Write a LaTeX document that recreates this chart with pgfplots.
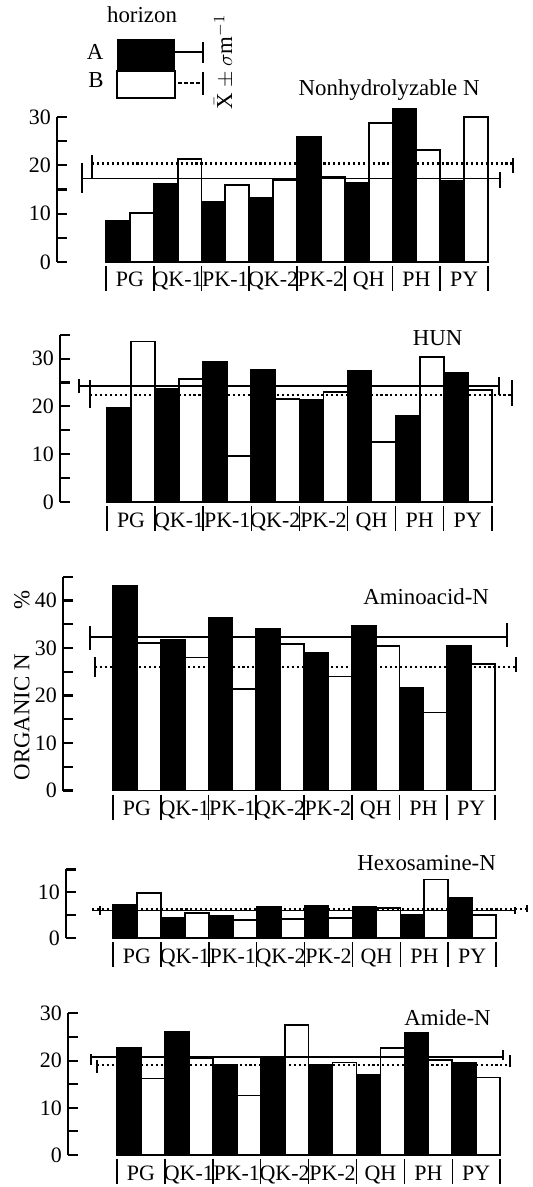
\documentclass[border=0pt]{standalone}
\usepackage{fontspec}
\setmainfont{Liberation Serif}
\usepackage{pgfplots}
\pgfplotsset{compat=1.18}

\pgfplotsset{
  organ/.style={
    anchor=south west, clip=false,
    axis y line*=left, axis x line*=bottom,
    x axis line style={draw=none},
    xtick={0.5,1.5,...,7.5},
    xticklabels={PG,QK-1,PK-1,QK-2,PK-2,QH,PH,PY},
    xtick style={draw=none},
    xticklabel style={anchor=base, yshift=-0.5cm, font=\fontsize{12.5}{14}\selectfont},
    ymin=0,
    tick align=inside,
    major tick length=0.2cm, minor tick length=0.2cm,
    y axis line style={line width=1.6pt},
    ytick style={line width=1.2pt, black},
    minor y tick style={line width=1.2pt, black},
    yticklabel style={font=\fontsize{12.5}{14}\selectfont},
    /pgf/number format/assume math mode=true,
  },
  barA/.style={ybar, bar width=0.5, bar shift=0pt, fill=black, draw=black, line width=1pt},
  barB/.style={ybar, bar width=0.5, bar shift=0pt, fill=white, draw=black, line width=1pt},
  meanA/.style={black, line width=1pt},
  meanB/.style={black, line width=1.2pt, dash pattern=on 1.2pt off 1.6pt},
  cap/.style={black, line width=1pt},
}
\newcommand{\seps}{%
  \pgfplotsinvokeforeach{0,...,8}{%
    \draw[line width=0.9pt] ([yshift=-0.08cm]axis cs:##1,0) -- ([yshift=-0.58cm]axis cs:##1,0);}}

\begin{document}
\begin{tikzpicture}
\useasboundingbox (0,0) rectangle (10.64,-23.74);

% Nonhydrolyzable N
\begin{axis}[organ, at={(1.14cm,-5.24cm)}, x=0.955cm, y=0.0966cm,
  xmin=-1.026, xmax=8.92, ymax=30, ytick={0,10,20,30}, minor ytick={5,15,25}]
\addplot[barA] coordinates {(0.25,8.5) (1.25,16.2) (2.25,12.5) (3.25,13.2) (4.25,25.8) (5.25,16.4) (6.25,31.7) (7.25,16.8)};
\addplot[barB] coordinates {(0.75,10.1) (1.75,21.3) (2.75,16.0) (3.75,17.0) (4.75,17.6) (5.75,28.7) (6.75,23.2) (7.75,30.0)};
\addplot[meanA] coordinates {(-0.50,17.3) (8.25,17.3)};
\addplot[cap] coordinates {(-0.50,14.3) (-0.50,20.5)};
\addplot[cap] coordinates {(8.25,15.3) (8.25,18.6)};
\addplot[meanB] coordinates {(-0.29,20.4) (8.52,20.4)};
\addplot[cap] coordinates {(-0.29,17.4) (-0.29,22.2)};
\addplot[cap] coordinates {(8.52,18.4) (8.52,21.5)};
\seps
\end{axis}

% HUN
\begin{axis}[organ, at={(1.20cm,-10.04cm)}, x=0.962cm, y=0.0956cm,
  xmin=-0.977, xmax=8.84, ymax=35, ytick={0,10,20,30}, minor ytick={5,15,25,35}]
\addplot[barA] coordinates {(0.25,19.7) (1.25,23.7) (2.25,29.3) (3.25,27.6) (4.25,21.3) (5.25,27.4) (6.25,18.1) (7.25,27.1)};
\addplot[barB] coordinates {(0.75,33.6) (1.75,25.7) (2.75,9.7) (3.75,21.5) (4.75,23.0) (5.75,12.6) (6.75,30.4) (7.75,23.5)};
\addplot[meanA] coordinates {(-0.58,24.2) (8.15,24.2)};
\addplot[cap] coordinates {(-0.58,22.8) (-0.58,25.7)};
\addplot[cap] coordinates {(8.15,22.4) (8.15,26.1)};
\addplot[meanB] coordinates {(-0.35,22.3) (8.42,22.3)};
\addplot[cap] coordinates {(-0.35,19.7) (-0.35,25.5)};
\addplot[cap] coordinates {(8.42,20.1) (8.42,25.5)};
\seps
\end{axis}

% Aminoacid-N
\begin{axis}[organ, at={(1.26cm,-15.81cm)}, x=0.955cm, y=0.095cm,
  xmin=-1.047, xmax=8.77, ymax=45, ytick={0,10,20,30,40}, minor ytick={5,15,25,35,45}]
\addplot[barA] coordinates {(0.25,43.1) (1.25,31.7) (2.25,36.3) (3.25,34.0) (4.25,28.9) (5.25,34.7) (6.25,21.5) (7.25,30.5)};
\addplot[barB] coordinates {(0.75,31.0) (1.75,28.0) (2.75,21.3) (3.75,30.8) (4.75,24.0) (5.75,30.5) (6.75,16.4) (7.75,26.7)};
\addplot[meanA] coordinates {(-0.48,32.3) (8.25,32.3)};
\addplot[cap] coordinates {(-0.48,29.6) (-0.48,34.6)};
\addplot[cap] coordinates {(8.25,30.3) (8.25,35.3)};
\addplot[meanB] coordinates {(-0.38,26.0) (8.44,26.0)};
\addplot[cap] coordinates {(-0.38,23.9) (-0.38,28.1)};
\addplot[cap] coordinates {(8.44,24.9) (8.44,28.1)};
\seps
\end{axis}

% Hexosamine-N
\begin{axis}[organ, at={(1.32cm,-18.76cm)}, x=0.958cm, y=0.0914cm,
  xmin=-0.981, xmax=8.75, ymax=15, ytick={0,10}, minor ytick={5,15}]
\addplot[barA] coordinates {(0.25,7.3) (1.25,4.4) (2.25,4.9) (3.25,6.8) (4.25,7.1) (5.25,6.9) (6.25,5.1) (7.25,8.8)};
\addplot[barB] coordinates {(0.75,9.9) (1.75,5.5) (2.75,4.0) (3.75,4.2) (4.75,4.4) (5.75,6.6) (6.75,12.8) (7.75,5.0)};
\addplot[meanA] coordinates {(-0.44,6.0) (8.39,6.0)};
\addplot[cap] coordinates {(-0.27,5.0) (-0.27,7.0)};
\addplot[cap] coordinates {(8.39,5.2) (8.39,6.8)};
\addplot[meanB] coordinates {(-0.44,6.4) (8.64,6.4)};
\addplot[cap] coordinates {(8.64,5.6) (8.64,7.2)};
\seps
\end{axis}

% Amide-N
\begin{axis}[organ, at={(1.36cm,-23.10cm)}, x=0.958cm, y=0.0944cm,
  xmin=-1.023, xmax=8.66, ymax=30, ytick={0,10,20,30}, minor ytick={5,15,25}]
\addplot[barA] coordinates {(0.25,22.6) (1.25,26.0) (2.25,19.1) (3.25,20.8) (4.25,19.1) (5.25,16.9) (6.25,25.8) (7.25,19.6)};
\addplot[barB] coordinates {(0.75,16.2) (1.75,20.6) (2.75,12.6) (3.75,27.5) (4.75,19.6) (5.75,22.6) (6.75,20.1) (7.75,16.4)};
\addplot[meanA] coordinates {(-0.54,20.8) (8.06,20.8)};
\addplot[cap] coordinates {(-0.54,19.1) (-0.54,21.4)};
\addplot[cap] coordinates {(8.06,20.1) (8.06,22.2)};
\addplot[meanB] coordinates {(-0.42,19.0) (8.20,19.0)};
\addplot[cap] coordinates {(-0.42,17.4) (-0.42,20.1)};
\addplot[cap] coordinates {(8.20,18.6) (8.20,21.2)};
\seps
\end{axis}

\begin{scope}[x=0.02cm, y=-0.02cm, font=\fontsize{13}{15}\selectfont]
% legend
\node at (142,15) {horizon};
\fill[black] (117,39) rectangle (175,71);
\draw[line width=1pt, fill=white] (117,71) rectangle (175,98);
\node at (95,52) {A};
\node at (96,80) {B};
\draw[line width=1pt] (175,52) -- (203,52);
\draw[line width=1pt] (203,42) -- (203,63);
\draw[line width=1pt, dash pattern=on 2pt off 1.5pt] (178,83) -- (203,83);
\draw[line width=1pt] (203,72) -- (203,95);
\node[rotate=90] at (224,62) {$\bar{\mathrm{X}}\pm\sigma\mathrm{m}^{-1}$};
% titles
\node at (389,90) {Nonhydrolyzable N};
\node at (437.5,338) {HUN};
\node at (426,597) {Aminoacid-N};
\node at (426.5,863) {Hexosamine-N};
\node at (447.5,1017) {Amide-N};
% y label
\node[rotate=90] at (22,717) {ORGANIC N};
\node[rotate=90] at (22,600) {\%};
\end{scope}
\end{tikzpicture}
\end{document}
